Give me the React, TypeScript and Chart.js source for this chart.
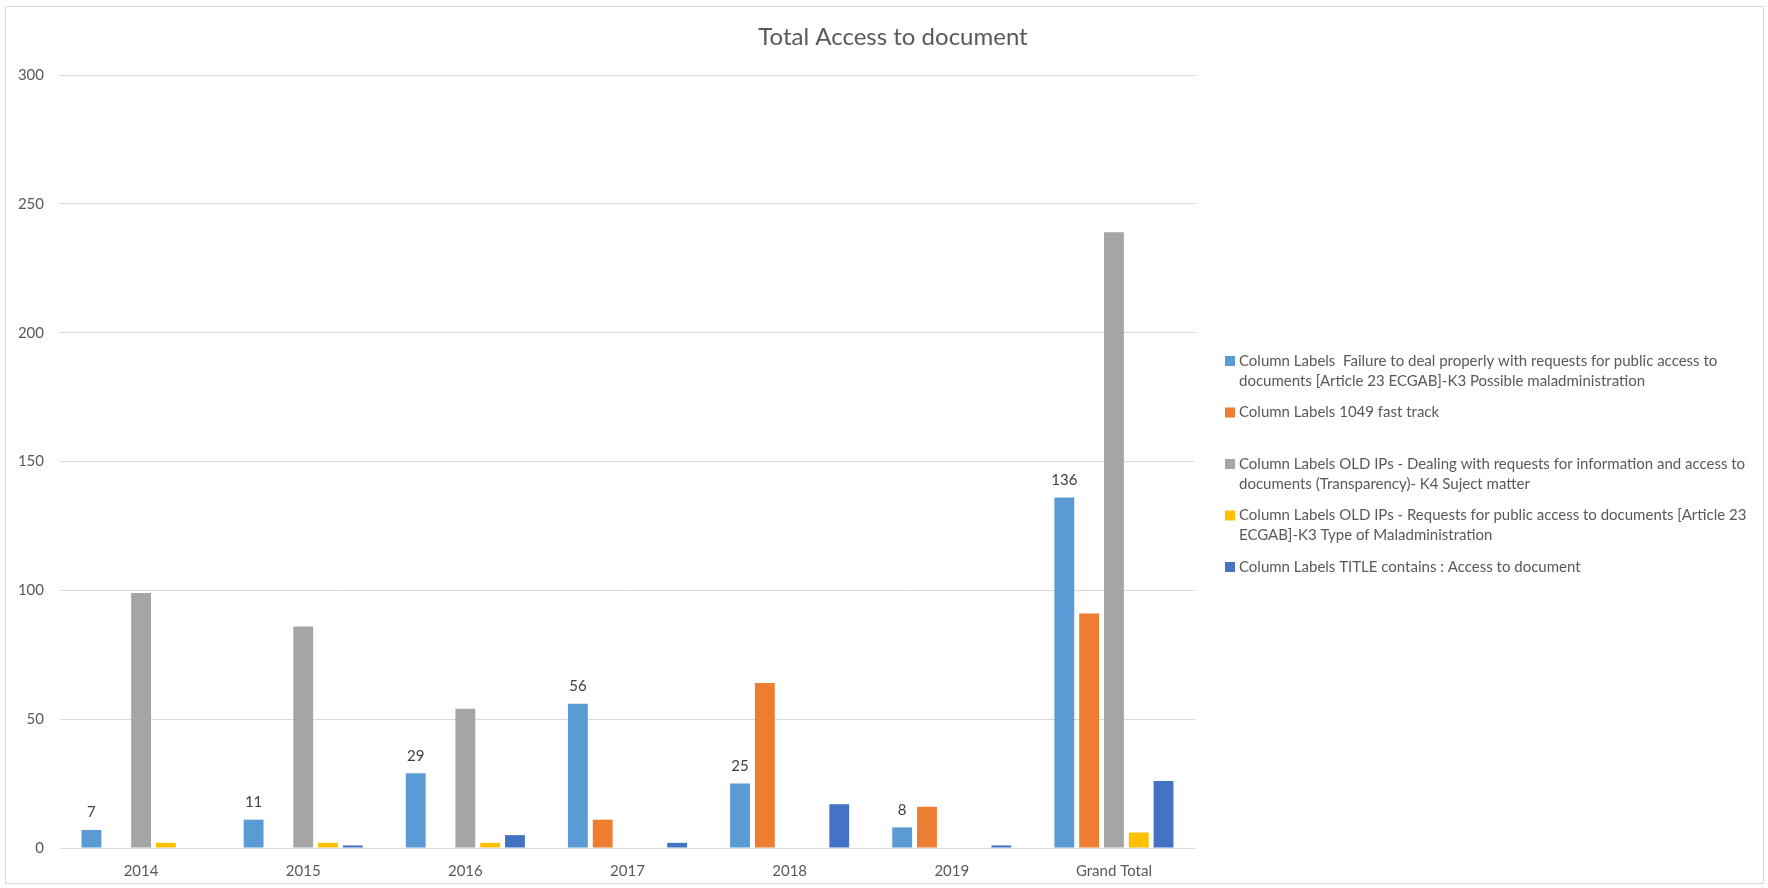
import React, { useEffect, useRef } from "react";
import { Chart, registerables } from "chart.js";

Chart.register(...registerables);

const chartTitle = "Total Access to document";
const categories = ["2014", "2015", "2016", "2017", "2018", "2019", "Grand Total"];
const failureValues = [7, 11, 29, 56, 25, 8, 136];
const fastTrackValues = [0, 0, 0, 11, 64, 16, 91];
const dealingValues = [99, 86, 54, 0, 0, 0, 239];
const requestsValues = [2, 2, 2, 0, 0, 0, 6];
const titleContainsValues = [0, 1, 5, 2, 17, 1, 26];
const yMin = 0;
const yMax = 300;
const yStep = 50;

const seriesLabelLines: string[][] = [
  [
    "Column Labels  Failure to deal properly with requests for public access to",
    "documents [Article 23 ECGAB]-K3 Possible maladministration",
  ],
  ["Column Labels 1049 fast track"],
  [
    "Column Labels OLD IPs - Dealing with requests for information and access to",
    "documents (Transparency)- K4 Suject matter",
  ],
  [
    "Column Labels OLD IPs - Requests for public access to documents [Article 23",
    "ECGAB]-K3 Type of Maladministration",
  ],
  ["Column Labels TITLE contains : Access to document"],
];

const seriesValues = [failureValues, fastTrackValues, dealingValues, requestsValues, titleContainsValues];
const seriesColors = ["#5B9BD5", "#ED7D31", "#A5A5A5", "#FFC000", "#4472C4"];
const labelledSeries = [0];

const FONT = "Lato, 'Open Sans', sans-serif";
const TEXT = "#595959";

const W = 1768;
const H = 888;

const decorPlugin = {
  id: "decor",
  beforeDraw(chart: any) {
    const ctx = chart.ctx;
    ctx.save();
    ctx.fillStyle = "#ffffff";
    ctx.fillRect(0, 0, W, H);
    ctx.strokeStyle = "#d9d9d9";
    ctx.lineWidth = 1;
    ctx.strokeRect(5.5, 6.5, 1758, 877);
    ctx.restore();
  },
  afterDatasetsDraw(chart: any) {
    const ctx = chart.ctx;
    ctx.save();
    ctx.fillStyle = "#404040";
    ctx.font = `15px ${FONT}`;
    ctx.textAlign = "center";
    ctx.textBaseline = "middle";
    labelledSeries.forEach((di) => {
      const meta = chart.getDatasetMeta(di);
      meta.data.forEach((el: any, i: number) => {
        const v = seriesValues[di][i];
        ctx.fillText(String(v), el.x, el.y - 17.5);
      });
    });
    ctx.restore();
  },
  afterDraw(chart: any) {
    const ctx = chart.ctx;
    ctx.save();
    ctx.fillStyle = TEXT;
    ctx.textBaseline = "middle";
    ctx.textAlign = "center";
    ctx.font = `24px ${FONT}`;
    ctx.fillText(chartTitle, 893, 37);

    ctx.textAlign = "left";
    ctx.font = `15px ${FONT}`;
    seriesLabelLines.forEach((lines, i) => {
      const y0 = 361 + i * 51.5;
      ctx.fillStyle = seriesColors[i];
      ctx.fillRect(1225, y0 - 5, 10, 10);
      ctx.fillStyle = TEXT;
      lines.forEach((line, j) => {
        ctx.fillText(line, 1239, y0 + j * 20);
      });
    });
    ctx.restore();
  },
};

export default function App() {
  const ref = useRef<HTMLCanvasElement | null>(null);

  useEffect(() => {
    if (!ref.current) return;
    const chart = new Chart(ref.current, {
      type: "bar",
      data: {
        labels: categories,
        datasets: seriesValues.map((vals, i) => ({
          label: seriesLabelLines[i].join(" "),
          data: vals,
          backgroundColor: seriesColors[i],
          borderWidth: 0,
          categoryPercentage: 0.765,
          barPercentage: 0.8,
        })),
      },
      options: {
        responsive: false,
        animation: false,
        devicePixelRatio: 1,
        layout: { padding: { left: 0, top: 75, right: W - 1195, bottom: 0 } },
        plugins: {
          legend: { display: false },
          title: { display: false },
          tooltip: { enabled: false },
        },
        scales: {
          x: {
            grid: { display: false, drawTicks: false },
            border: { display: false },
            ticks: { color: TEXT, font: { family: FONT, size: 15 }, padding: 14 },
            afterFit: (s: any) => {
              s.height = H - 848;
            },
          },
          y: {
            min: yMin,
            max: yMax,
            grid: { color: "#d9d9d9", lineWidth: 1, drawTicks: false },
            border: { display: false },
            ticks: { stepSize: yStep, color: TEXT, font: { family: FONT, size: 15 }, padding: 16 },
            afterFit: (s: any) => {
              s.width = 60;
            },
          },
        },
      },
      plugins: [decorPlugin],
    });
    return () => chart.destroy();
  }, []);

  return (
    <div style={{ position: "fixed", left: 0, top: 0, width: W, height: H }}>
      <canvas ref={ref} width={W} height={H} style={{ width: W, height: H, display: "block" }} />
    </div>
  );
}
